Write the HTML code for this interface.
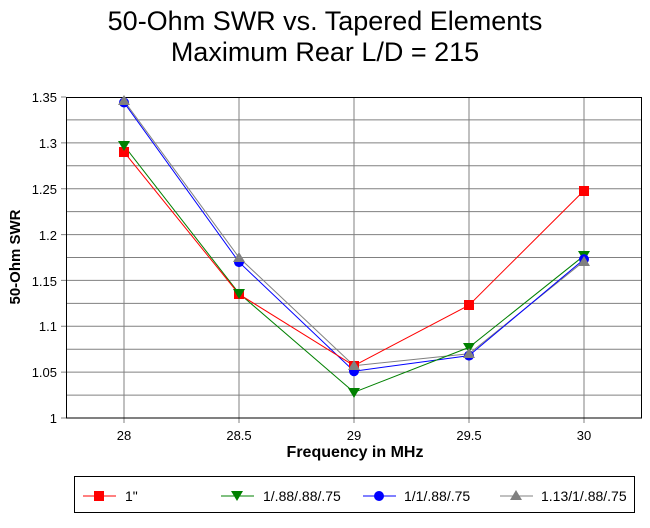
<!DOCTYPE html>
<html><head><style>body{margin:0;background:#fff}svg{display:block}text{font-family:"Liberation Sans",sans-serif}</style></head><body>
<svg width="650" height="528" viewBox="0 0 650 528">
<rect width="650" height="528" fill="#fff"/>
<text x="325" y="30" font-size="27" text-anchor="middle">50-Ohm SWR vs. Tapered Elements</text>
<text x="325" y="61" font-size="27" text-anchor="middle">Maximum Rear L/D = 215</text>
<g stroke="#808080" stroke-width="1">
<line x1="66" x2="642" y1="119.9" y2="119.9"/><line x1="61" x2="642" y1="142.9" y2="142.9"/>
<line x1="66" x2="642" y1="165.8" y2="165.8"/><line x1="61" x2="642" y1="188.7" y2="188.7"/>
<line x1="66" x2="642" y1="211.6" y2="211.6"/><line x1="61" x2="642" y1="234.6" y2="234.6"/>
<line x1="66" x2="642" y1="257.5" y2="257.5"/><line x1="61" x2="642" y1="280.4" y2="280.4"/>
<line x1="66" x2="642" y1="303.4" y2="303.4"/><line x1="61" x2="642" y1="326.3" y2="326.3"/>
<line x1="66" x2="642" y1="349.2" y2="349.2"/><line x1="61" x2="642" y1="372.1" y2="372.1"/>
<line x1="66" x2="642" y1="395.1" y2="395.1"/>
<line x1="61" x2="66" y1="97" y2="97"/><line x1="61" x2="66" y1="418" y2="418"/>
<line x1="124" x2="124" y1="97" y2="423"/><line x1="239" x2="239" y1="97" y2="423"/>
<line x1="354" x2="354" y1="97" y2="423"/><line x1="469" x2="469" y1="97" y2="423"/>
<line x1="584" x2="584" y1="97" y2="423"/>
</g>
<rect x="66.5" y="97.5" width="575" height="320.5" fill="none" stroke="#000"/>
<g font-size="13" text-anchor="end">
<text x="57" y="102">1.35</text><text x="57" y="148">1.3</text><text x="57" y="194">1.25</text>
<text x="57" y="240">1.2</text><text x="57" y="286">1.15</text><text x="57" y="331">1.1</text>
<text x="57" y="377">1.05</text><text x="57" y="423">1</text>
</g>
<g font-size="13" text-anchor="middle">
<text x="124" y="440">28</text><text x="239" y="440">28.5</text><text x="354" y="440">29</text>
<text x="469" y="440">29.5</text><text x="584" y="440">30</text>
</g>
<text x="355" y="457" font-size="16" font-weight="bold" text-anchor="middle">Frequency in MHz</text>
<text transform="translate(20,257) rotate(-90)" font-size="15" font-weight="bold" text-anchor="middle">50-Ohm SWR</text>
<g fill="none" stroke-width="1">
<polyline stroke="#808080" points="124,100.7 239,257.5 354,365.7 469,353.8 584,261.2"/>
<polyline stroke="#0000ff" points="124,102.5 239,262.1 354,371.2 469,355.6 584,259.3"/>
<polyline stroke="#008000" points="124,145.6 239,293.3 354,392.3 469,347.4 584,255.7"/>
<polyline stroke="#ff0000" points="124,152 239,294.2 354,365.7 469,305.2 584,190.6"/>
</g>
<g fill="#ff0000"><rect x="119" y="147" width="10" height="10"/><rect x="234" y="289" width="10" height="10"/><rect x="349" y="361" width="10" height="10"/><rect x="464" y="300" width="10" height="10"/><rect x="579" y="186" width="10" height="10"/></g>
<g fill="#008000"><path d="M118,141h12l-6,10z"/><path d="M233,289h12l-6,10z"/><path d="M348,388h12l-6,10z"/><path d="M463,343h12l-6,10z"/><path d="M578,251h12l-6,10z"/></g>
<g fill="#0000ff"><circle cx="124" cy="102.5" r="5"/><circle cx="239" cy="262.1" r="5"/><circle cx="354" cy="371.2" r="5"/><circle cx="469" cy="355.6" r="5"/><circle cx="584" cy="259.3" r="5"/></g>
<g fill="#808080"><path d="M124,95l6,10h-12z"/><path d="M239,252l6,10h-12z"/><path d="M354,360l6,10h-12z"/><path d="M469,348l6,10h-12z"/><path d="M584,256l6,10h-12z"/></g>
<rect x="74.5" y="476.5" width="560" height="36" fill="none" stroke="#000"/>
<g font-size="14">
<line x1="83" x2="116" y1="496" y2="496" stroke="#ff0000"/><rect x="94" y="491" width="10" height="10" fill="#ff0000"/>
<text x="125" y="501">1"</text>
<line x1="221" x2="254" y1="496" y2="496" stroke="#008000"/><path d="M231,491h12l-6,10z" fill="#008000"/>
<text x="263" y="501">1/.88/.88/.75</text>
<line x1="363" x2="396" y1="496" y2="496" stroke="#0000ff"/><circle cx="379" cy="496" r="5" fill="#0000ff"/>
<text x="404" y="501">1/1/.88/.75</text>
<line x1="500" x2="533" y1="496" y2="496" stroke="#808080"/><path d="M516,490l6,10h-12z" fill="#808080"/>
<text x="541" y="501">1.13/1/.88/.75</text>
</g>
</svg>
</body></html>
